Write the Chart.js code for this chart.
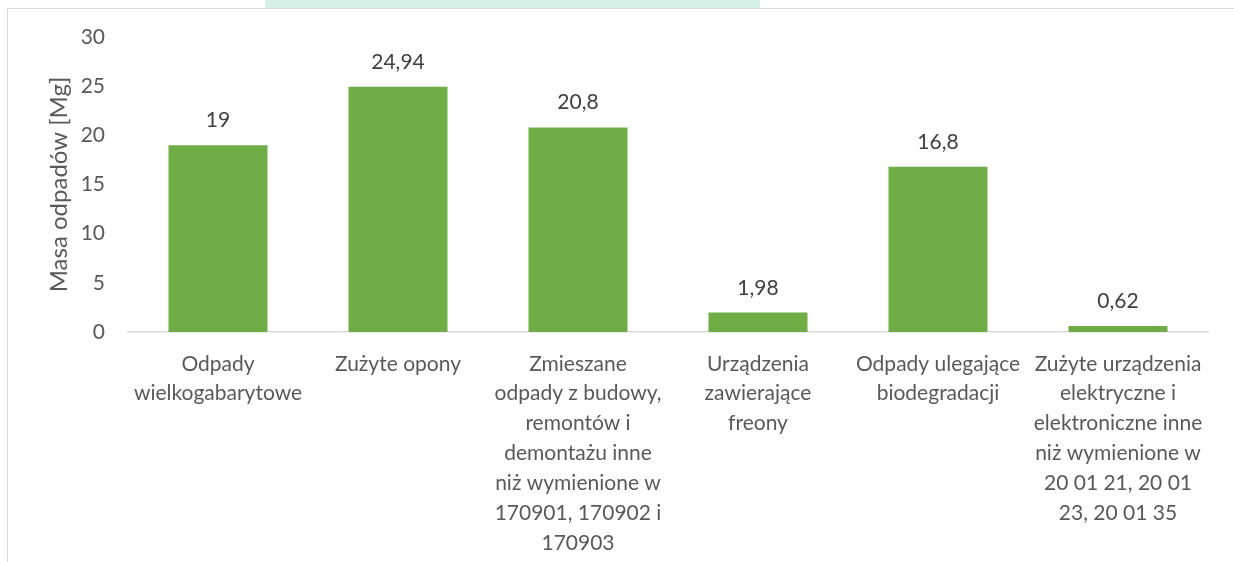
<!DOCTYPE html>
<html><head><meta charset="utf-8">
<script src="https://cdn.jsdelivr.net/npm/chart.js@4/dist/chart.umd.min.js"></script>
<style>html,body{margin:0;padding:0;background:#fff}#wrap{width:1234px;height:562px;position:relative}</style>
</head><body><div id="wrap"><canvas id="c" width="1234" height="562"></canvas></div>
<script>
const categories = [
  ["Odpady", "wielkogabarytowe"],
  ["Zużyte opony"],
  ["Zmieszane", "odpady z budowy,", "remontów i", "demontażu inne", "niż wymienione w", "170901, 170902 i", "170903"],
  ["Urządzenia", "zawierające", "freony"],
  ["Odpady ulegające", "biodegradacji"],
  ["Zużyte urządzenia", "elektryczne i", "elektroniczne inne", "niż wymienione w", "20 01 21, 20 01", "23, 20 01 35"]
];
const values = [19, 24.94, 20.8, 1.98, 16.8, 0.62];
const valueLabels = ["19", "24,94", "20,8", "1,98", "16,8", "0,62"];
const yTicks = [0, 5, 10, 15, 20, 25, 30];
const yTitle = "Masa odpadów [Mg]";

const FONT = "Lato, 'Open Sans', sans-serif";
const TXT = "#595959";

const framePlugin = {
  id: 'frame',
  beforeDraw(chart) {
    const ctx = chart.ctx;
    ctx.save();
    ctx.fillStyle = '#d3efe6';
    ctx.fillRect(265, 0, 495, 8);
    ctx.strokeStyle = '#d9d9d9';
    ctx.lineWidth = 1;
    ctx.beginPath();
    ctx.moveTo(7.5, 562);
    ctx.lineTo(7.5, 8.5);
    ctx.lineTo(1234, 8.5);
    ctx.stroke();
    ctx.restore();
  }
};
const labelPlugin = {
  id: 'vlabels',
  afterDatasetsDraw(chart) {
    const ctx = chart.ctx;
    const meta = chart.getDatasetMeta(0);
    ctx.save();
    ctx.font = "21px " + FONT;
    ctx.fillStyle = '#404040';
    ctx.textAlign = 'center';
    ctx.textBaseline = 'alphabetic';
    meta.data.forEach((bar, i) => {
      ctx.fillText(valueLabels[i], bar.x, bar.y - 18);
    });
    ctx.restore();
  }
};

new Chart(document.getElementById('c'), {
  type: 'bar',
  data: {
    labels: categories,
    datasets: [{ data: values, backgroundColor: '#70ad47', borderWidth: 0,
      barPercentage: 0.55, categoryPercentage: 1.0 }]
  },
  options: {
    responsive: false, animation: false, devicePixelRatio: 1,
    layout: { padding: { top: 37, right: 26, left: 40, bottom: 0 } },
    plugins: { legend: { display: false }, tooltip: { enabled: false } },
    scales: {
      y: {
        min: 0, max: 30,
        afterBuildTicks(s) { s.ticks = yTicks.map(v => ({ value: v })); },
        grid: { display: false, drawTicks: false },
        border: { display: false },
        ticks: { color: TXT, font: { family: FONT, size: 21 }, padding: 23 },
        title: { display: true, text: yTitle, color: TXT, font: { family: FONT, size: 24 }, padding: { top: 5, bottom: 0 } },
        afterFit(s) { s.width = 88; }
      },
      x: {
        grid: { display: false, drawTicks: false },
        border: { display: true, color: '#d9d9d9', width: 1.5 },
        ticks: { color: TXT, font: { family: FONT, size: 21, lineHeight: 1.42 }, autoSkip: false, maxRotation: 0, minRotation: 0, padding: 17 },
        afterFit(s) { s.height = 230; }
      }
    }
  },
  plugins: [framePlugin, labelPlugin]
});
</script></body></html>
